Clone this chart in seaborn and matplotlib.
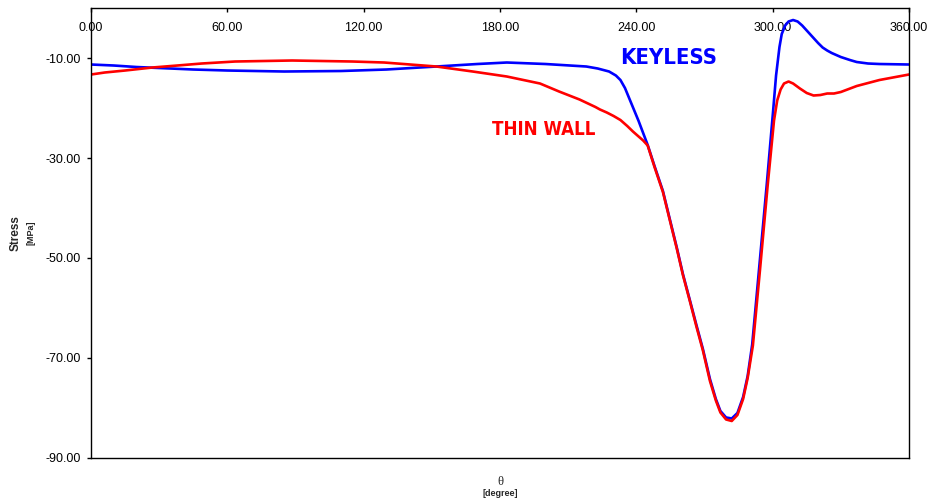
import matplotlib
matplotlib.use("Agg")
import matplotlib.pyplot as plt
from matplotlib import font_manager
import seaborn as sns
import pandas as pd

# Hoop stress around the circumference for the two hub designs
keyless_theta = [0, 10, 20, 30, 45, 60, 85, 110, 130, 152, 170, 183, 200, 218, 223, 228,
                 231, 233, 235, 237, 239, 241, 243, 245, 248, 251.7, 254.5, 257.8, 260.5,
                 263.6, 266.5, 269.3, 272.4, 275, 277, 279.5, 282, 284.5, 287, 289, 291, 294,
                 297.4, 300.2, 301.5, 303, 304, 305.5, 307, 309, 311, 313, 315, 318, 320,
                 322, 324, 326, 330, 334, 337, 342, 347, 360]
keyless_stress = [-11.3, -11.5, -11.8, -12.0, -12.3, -12.5, -12.7, -12.6, -12.3, -11.7, -11.2,
                  -10.9, -11.2, -11.7, -12.1, -12.7, -13.5, -14.4, -16.0, -18.2, -20.4, -22.6,
                  -25.0, -27.4, -31.6, -36.6, -41.8, -47.9, -53.2, -58.5, -63.5, -68.2, -74.2,
                  -78.2, -80.6, -81.9, -82.1, -81.0, -77.8, -73.6, -67.3, -52.3, -35.3, -20.6,
                  -13.5, -7.8, -5.2, -3.5, -2.7, -2.4, -2.7, -3.5, -4.5, -6.0, -7.0, -7.9,
                  -8.5, -9.0, -9.8, -10.4, -10.8, -11.1, -11.2, -11.3]

thinwall_theta = [0, 6, 15, 27, 38, 48.7, 63.4, 88.5, 115, 129, 152, 168, 183, 197.6, 206,
                  215, 222, 224, 227, 230, 233, 236, 238.5, 241, 243, 245, 248, 251.7, 254.5,
                  257.8, 260.5, 263.6, 266.5, 269.3, 272.4, 275, 277, 279.5, 282, 284.5,
                  287, 289, 291.3, 294.4, 297.8, 300.6, 302, 303.5, 305, 307, 309, 312, 315,
                  318, 321, 324, 327, 330, 337, 347, 360]
thinwall_stress = [-13.3, -12.9, -12.5, -11.9, -11.5, -11.1, -10.7, -10.5, -10.7, -10.9,
                   -11.7, -12.7, -13.7, -15.1, -16.7, -18.3, -19.8, -20.3, -20.9, -21.6,
                   -22.4, -23.6, -24.7, -25.7, -26.5, -27.5, -31.8, -36.8, -42.0, -48.1,
                   -53.4, -58.7, -63.8, -68.5, -74.6, -78.5, -80.9, -82.3, -82.6, -81.4,
                   -78.2, -74.0, -67.5, -52.5, -35.5, -22.5, -18.5, -16.3, -15.1, -14.7,
                   -15.1, -16.1, -17.0, -17.5, -17.4, -17.1, -17.1, -16.8, -15.6, -14.4,
                   -13.3]

x_ticks = [0, 60, 120, 180, 240, 300, 360]
y_ticks = [-90, -70, -50, -30, -10]

sns.set_theme(style="white")
plt.rcParams["font.family"] = ["Liberation Sans", "DejaVu Sans"]

df = pd.concat([
    pd.DataFrame({"theta": keyless_theta, "stress": keyless_stress, "design": "KEYLESS"}),
    pd.DataFrame({"theta": thinwall_theta, "stress": thinwall_stress, "design": "THIN WALL"}),
])

fig = plt.figure(figsize=(9.28, 5.04), dpi=100)
ax = fig.add_axes([0.0981, 0.0913, 0.8814, 0.8928])

sns.lineplot(data=df, x="theta", y="stress", hue="design",
             palette={"KEYLESS": "#0000ff", "THIN WALL": "#ff0000"},
             linewidth=1.9, sort=False, estimator=None, legend=False, ax=ax)

ax.set_xlim(0, 360)
ax.set_ylim(-90, 0)
ax.set_xticks(x_ticks)
ax.set_xticklabels([f"{v:.2f}" for v in x_ticks])
ax.set_yticks(y_ticks)
ax.set_yticklabels([f"{v:.2f}" for v in y_ticks])

ax.xaxis.tick_top()
ax.tick_params(axis="x", direction="in", length=3, width=1, pad=-19,
               labelsize=9, colors="black")
ax.tick_params(axis="y", direction="out", length=3, width=1, pad=4.5,
               labelsize=9, colors="black", left=True)
for s in ax.spines.values():
    s.set_color("black")
    s.set_linewidth(1.0)

ax.set_xlabel("")
ax.set_ylabel("")

# condensed bold face for the in-plot series names
cond = font_manager.FontProperties(family="DejaVu Sans", stretch="condensed",
                                   weight="bold")
kp = cond.copy()
kp.set_size(15.8)
tp = cond.copy()
tp.set_size(13.4)
ax.text(254.4, -10.0, "KEYLESS", color="#0000ff", fontproperties=kp,
        ha="center", va="center")
ax.text(199.1, -24.3, "THIN WALL", color="#ff0000", fontproperties=tp,
        ha="center", va="center")

# axis titles with units on a second line
fig.text(16 / 928, 1 - 233 / 504, "Stress", rotation=90, fontsize=8.5, fontweight="bold",
         ha="center", va="center")
fig.text(31 / 928, 1 - 233 / 504, "[MPa]", rotation=90, fontsize=6.5, fontweight="bold",
         ha="center", va="center")
fig.text(500 / 928, 1 - 482 / 504, "\u03b8", fontsize=9,
         family=["Liberation Serif", "DejaVu Serif"], ha="center", va="center")
fig.text(500 / 928, 1 - 494 / 504, "[degree]", fontsize=6.5, fontweight="bold",
         ha="center", va="center")

fig.savefig("out.png", dpi=100, facecolor="white")
